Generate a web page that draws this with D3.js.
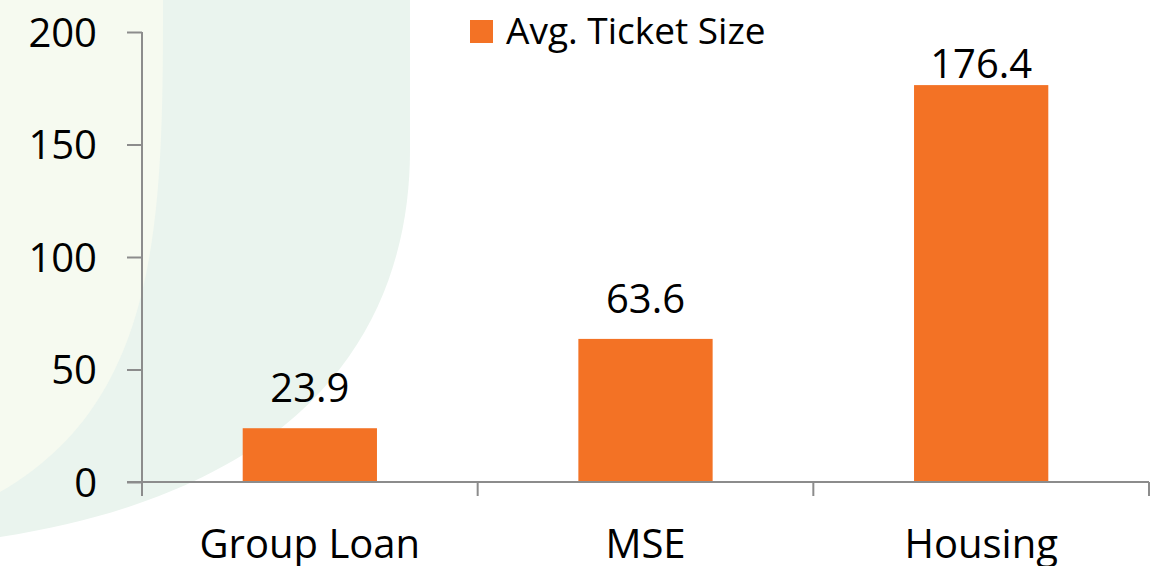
<!DOCTYPE html>
<html>
<head>
<meta charset="utf-8">
<title>Avg. Ticket Size</title>
<style>
  html, body { margin: 0; padding: 0; background: #fff; }
  svg { display: block; font-family: "Open Sans", sans-serif; }
</style>
</head>
<body>
<svg id="chart" width="1172" height="566"></svg>
<script src="https://cdnjs.cloudflare.com/ajax/libs/d3/7.8.5/d3.min.js"></script>
<script>
// chart data
const categories = ["Group Loan", "MSE", "Housing"];
const ticketSize = [23.9, 63.6, 176.4];
const yTicks = [0, 50, 100, 150, 200];
const seriesName = "Avg. Ticket Size";

const width = 1172, height = 566;
const orange = "#f37225";
const axisGray = "#8c8c8c";

const svg = d3.select("#chart");

// soft background shapes
const bg = svg.append("g");
bg.append("path")
  .attr("d", "M0,0 H410 V150 C410,300 335,485 0,537 Z")
  .attr("fill", "#eaf4ee");
bg.append("path")
  .attr("d", "M0,0 H163 C163,220 160,400 0,492 Z")
  .attr("fill", "#f6faf0");

const x = d3.scaleBand()
  .domain(categories)
  .range([142, 1149])
  .paddingInner(0.6)
  .paddingOuter(0.3);

const y = d3.scaleLinear()
  .domain([0, 200])
  .range([482, 32]);

// y axis
const yAxis = svg.append("g")
  .attr("transform", "translate(142,0)")
  .call(d3.axisLeft(y).tickValues(yTicks).tickSize(15).tickSizeOuter(0).tickPadding(30));
yAxis.select(".domain").remove();
yAxis.selectAll(".tick line").attr("stroke", axisGray).attr("stroke-width", 2);
yAxis.selectAll(".tick text")
  .attr("fill", "#000")
  .style("font-size", "40px")
  .style("font-family", "'Open Sans', sans-serif")
  .attr("dy", "0.36em");
yAxis.append("line")
  .attr("x1", 0).attr("x2", 0)
  .attr("y1", y(200)).attr("y2", y(0) + 14)
  .attr("stroke", axisGray).attr("stroke-width", 2);

// bars
svg.append("g")
  .selectAll("rect")
  .data(categories)
  .join("rect")
    .attr("x", d => x(d))
    .attr("width", x.bandwidth())
    .attr("y", (d, i) => y(ticketSize[i]))
    .attr("height", (d, i) => y(0) - y(ticketSize[i]))
    .attr("fill", orange);

// x axis line and category separators
const xg = svg.append("g");
xg.append("line")
  .attr("x1", 127).attr("x2", x.range()[1])
  .attr("y1", y(0)).attr("y2", y(0))
  .attr("stroke", axisGray).attr("stroke-width", 2);
xg.selectAll(".sep")
  .data(d3.range(categories.length + 1))
  .join("line")
    .attr("class", "sep")
    .attr("x1", i => x.range()[0] + i * x.step())
    .attr("x2", i => x.range()[0] + i * x.step())
    .attr("y1", y(0)).attr("y2", y(0) + 14)
    .attr("stroke", axisGray).attr("stroke-width", 2);

// category labels (bottom of the descenders runs off the frame, as in the source)
svg.append("g")
  .selectAll("text")
  .data(categories)
  .join("text")
    .attr("x", d => x(d) + x.bandwidth() / 2)
    .attr("y", 558)
    .attr("text-anchor", "middle")
    .style("font-size", "40px")
    .attr("fill", "#000")
    .text(d => d);

// value labels
svg.append("g")
  .selectAll("text")
  .data(categories)
  .join("text")
    .attr("x", d => x(d) + x.bandwidth() / 2)
    .attr("y", (d, i) => Math.max(y(ticketSize[i]) - 26, 78))
    .attr("text-anchor", "middle")
    .style("font-size", "40px")
    .attr("fill", "#000")
    .text((d, i) => ticketSize[i].toFixed(1));

// legend
const legend = svg.append("g");
legend.append("rect")
  .attr("x", 470).attr("y", 20)
  .attr("width", 23).attr("height", 23)
  .attr("fill", orange);
legend.append("text")
  .attr("x", 506).attr("y", 44)
  .style("font-size", "37px")
  .attr("fill", "#000")
  .text(seriesName);
</script>
</body>
</html>
